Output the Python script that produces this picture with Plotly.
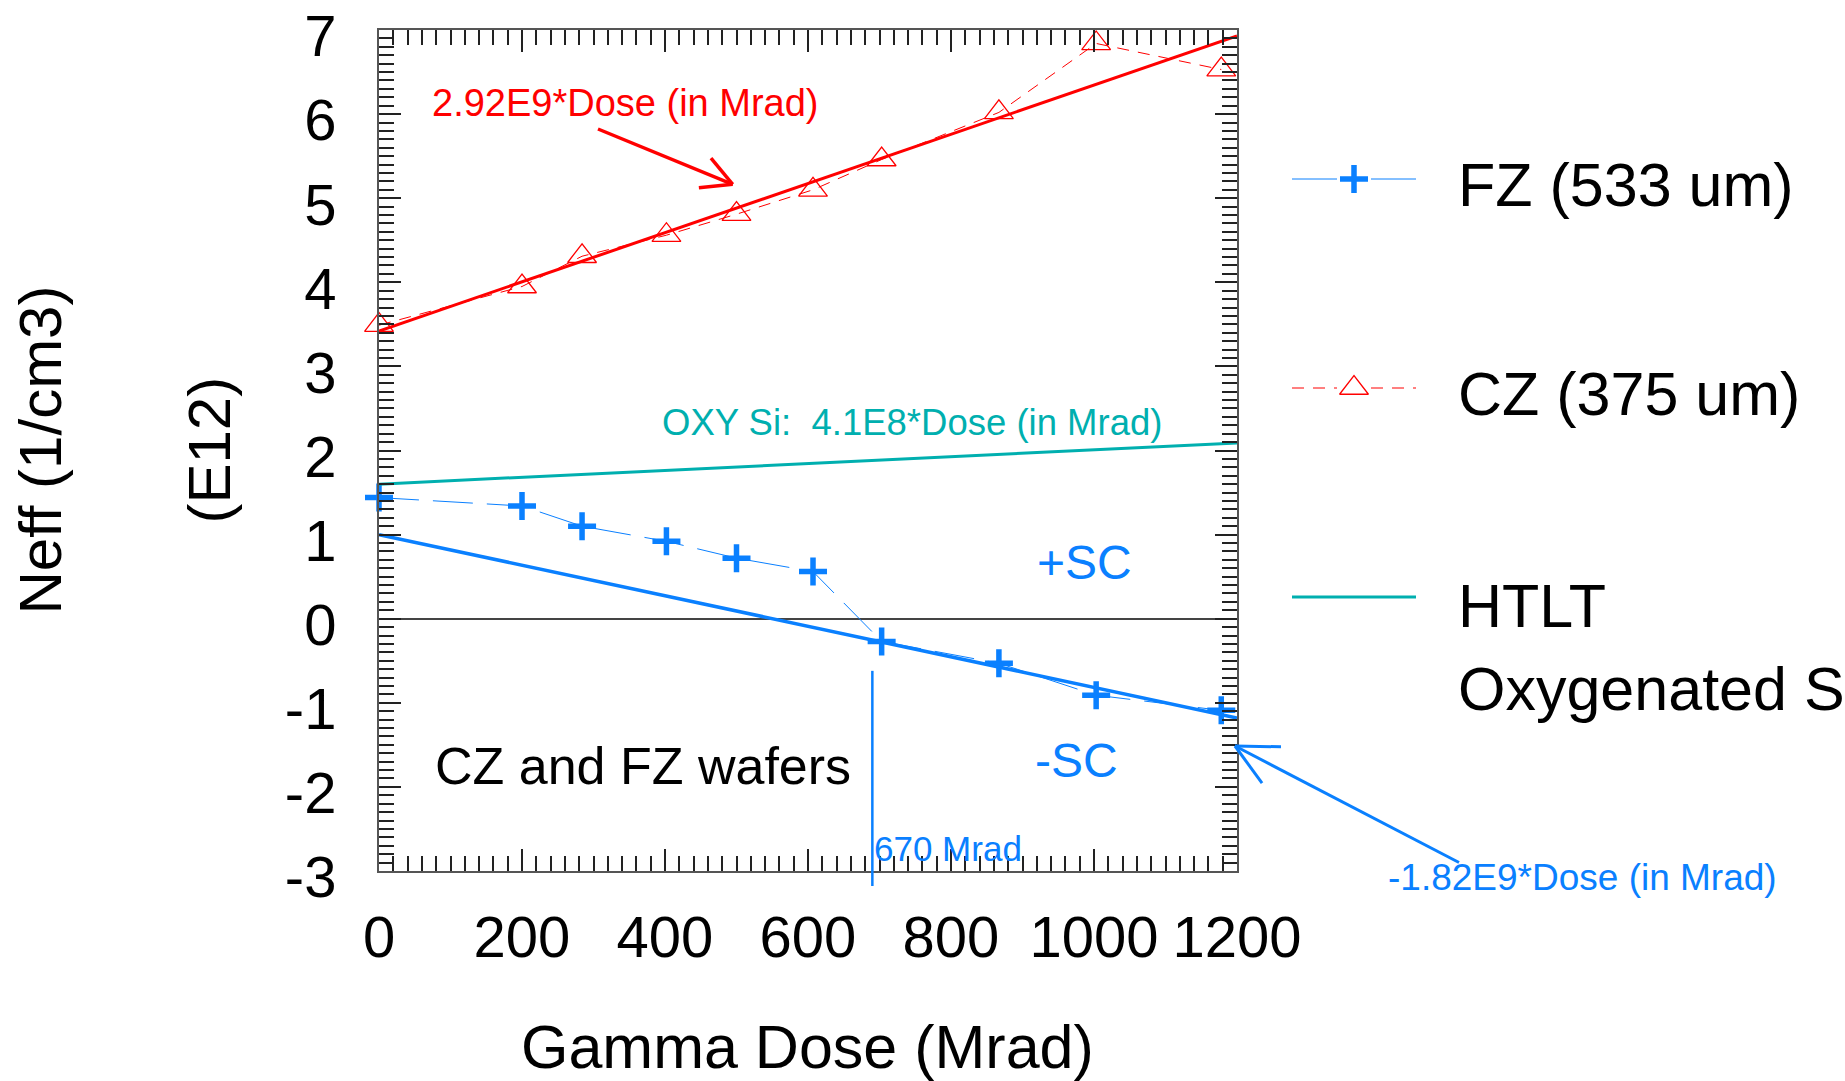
import math
import plotly.graph_objects as go

# ---------------- data ----------------
dose = [0, 200, 284, 402, 500, 607, 703, 867, 1003, 1178]          # Mrad
fz_neff = [1.44, 1.34, 1.10, 0.92, 0.72, 0.56, -0.27, -0.53, -0.91, -1.09]  # E12 /cm3
cz_neff = [3.49, 3.95, 4.31, 4.56, 4.81, 5.10, 5.46, 6.02, 6.84, 6.53]      # E12 /cm3

fit_dose = [0, 1200]
cz_fit = [3.42, 6.93]      # 2.92E9*Dose
fz_fit = [1.00, -1.18]     # -1.82E9*Dose
htlt_fit = [1.60, 2.09]    # 4.1E8*Dose

marker_dose = 690          # vertical marker ("670 Mrad")
marker_top = -0.62

x_ticks = [0, 200, 400, 600, 800, 1000, 1200]
y_ticks = [-3, -2, -1, 0, 1, 2, 3, 4, 5, 6, 7]

# ---------------- layout constants ----------------
W, H = 1845, 1081
PL, PR, PT, PB = 379, 1237, 30, 871
XR = (0, 1200)
YR = (-3, 7)
FONT = "Liberation Sans, Arial, Helvetica, sans-serif"
RED = "#FF0000"
BLUE = "#0A80FF"
TEAL = "#00AFAF"
AXC = "#555555"
TKC = "#222222"


def px(xv):
    return PL + (xv - XR[0]) / (XR[1] - XR[0]) * (PR - PL)


def py(yv):
    return PB - (yv - YR[0]) / (YR[1] - YR[0]) * (PB - PT)


fig = go.Figure()

# ---------------- data traces ----------------
fig.add_trace(go.Scatter(
    x=dose, y=cz_neff, mode="lines+markers", cliponaxis=False,
    line=dict(color=RED, width=1, dash="12px,9px"),
    marker=dict(symbol="triangle-up-open", size=25, color=RED,
                line=dict(color=RED, width=1.3)),
    showlegend=False))
fig.add_trace(go.Scatter(
    x=dose, y=fz_neff, mode="lines+markers", cliponaxis=False,
    line=dict(color=BLUE, width=1, dash="40px,14px"),
    marker=dict(symbol="cross-thin", size=20, color=BLUE,
                line=dict(color=BLUE, width=5.5)),
    showlegend=False))
fig.add_trace(go.Scatter(x=fit_dose, y=htlt_fit, mode="lines",
                         line=dict(color=TEAL, width=3), showlegend=False))
fig.add_trace(go.Scatter(x=fit_dose, y=cz_fit, mode="lines",
                         line=dict(color=RED, width=3), showlegend=False))
fig.add_trace(go.Scatter(x=fit_dose, y=fz_fit, mode="lines",
                         line=dict(color=BLUE, width=3.5), showlegend=False))

# ---------------- legend glyphs (pixel overlay axes) ----------------
LG_X0, LG_X1, LG_XM = 1292, 1416, 1354
LG_GAP = 17
rows = {"fz": 179, "cz": 388, "htlt": 597}
fig.add_trace(go.Scatter(
    x=[LG_X0, LG_XM - LG_GAP, None, LG_XM + LG_GAP, LG_X1],
    y=[rows["fz"]] * 2 + [None] + [rows["fz"]] * 2,
    xaxis="x2", yaxis="y2", mode="lines",
    line=dict(color=BLUE, width=1), showlegend=False))
fig.add_trace(go.Scatter(
    x=[LG_XM], y=[rows["fz"]], xaxis="x2", yaxis="y2", mode="markers",
    marker=dict(symbol="cross-thin", size=20, color=BLUE,
                line=dict(color=BLUE, width=5.5)), showlegend=False))
fig.add_trace(go.Scatter(
    x=[LG_X0, LG_XM - LG_GAP, None, LG_XM + LG_GAP, LG_X1],
    y=[rows["cz"]] * 2 + [None] + [rows["cz"]] * 2,
    xaxis="x2", yaxis="y2", mode="lines",
    line=dict(color=RED, width=1, dash="12px,9px"), showlegend=False))
fig.add_trace(go.Scatter(
    x=[LG_XM], y=[rows["cz"]], xaxis="x2", yaxis="y2", mode="markers",
    marker=dict(symbol="triangle-up-open", size=25, color=RED,
                line=dict(color=RED, width=1.3)), showlegend=False))
fig.add_trace(go.Scatter(
    x=[LG_X0, LG_X1], y=[rows["htlt"]] * 2, xaxis="x2", yaxis="y2",
    mode="lines", line=dict(color=TEAL, width=3), showlegend=False))

# ---------------- annotations ----------------
def txt(x, y, s, size, color="black", xanchor="left", angle=0):
    return dict(x=x, y=y, xref="x2", yref="y2", text=s, showarrow=False,
                xanchor=xanchor, yanchor="middle", textangle=angle,
                font=dict(family=FONT, size=size, color=color))


annotations = [
    txt(430, 103, "2.92E9*Dose (in Mrad)", 38, RED),
    txt(660, 422, "OXY Si:&nbsp; 4.1E8*Dose (in Mrad)", 36.5, TEAL),
    txt(1035, 562, "+SC", 48, BLUE),
    txt(1033, 760, "-SC", 48, BLUE),
    txt(433, 766, "CZ and FZ wafers", 52, "black"),
    txt(872, 848, "670 Mrad", 35, BLUE),
    txt(1386, 877, "-1.82E9*Dose (in Mrad)", 37, BLUE),
    txt(1456, 185, "FZ (533 um)", 61),
    txt(1456, 394, "CZ (375 um)", 61),
    txt(1456, 606, "HTLT", 61),
    txt(1456, 689, "Oxygenated Si", 61),
    txt((PL + PR) / 2 - 1, 1047, "Gamma Dose (Mrad)", 61, xanchor="center"),
    txt(40, (PT + PB) / 2, "Neff (1/cm3)", 60, xanchor="center", angle=-90),
    txt(209, (PT + PB) / 2, "(E12)", 60, xanchor="center", angle=-90),
]

# ---------------- shapes (marker line + arrows) ----------------
shapes = []


def seg(x0, y0, x1, y1, color, width):
    shapes.append(dict(type="line", xref="x2", yref="y2", x0=x0, y0=y0,
                       x1=x1, y1=y1, line=dict(color=color, width=width)))


def arrow(tail, tip, color, width, head_len, head_ang):
    seg(tail[0], tail[1], tip[0], tip[1], color, width)
    ang = math.atan2(tail[1] - tip[1], tail[0] - tip[0])
    for s in (-1, 1):
        a = ang + s * math.radians(head_ang)
        seg(tip[0], tip[1], tip[0] + head_len * math.cos(a),
            tip[1] + head_len * math.sin(a), color, width)


seg(px(marker_dose), py(marker_top), px(marker_dose), PB + 15, BLUE, 2.5)
arrow((598, 129), (732.7, 184.3), RED, 3.5, 34, 28)
arrow((1459, 862.5), (1235, 746), BLUE, 3, 46, 26.5)

fig.update_layout(
    width=W, height=H, autosize=False,
    margin=dict(l=0, r=0, t=0, b=0, pad=0, autoexpand=False),
    paper_bgcolor="white", plot_bgcolor="rgba(0,0,0,0)",
    font=dict(family=FONT, color="black"),
    showlegend=False,
    annotations=annotations,
    shapes=shapes,
    xaxis=dict(
        domain=[PL / W, PR / W], range=list(XR), anchor="y",
        showline=True, linecolor=AXC, linewidth=2, mirror="allticks",
        ticks="inside", ticklen=22, tickwidth=1.5, tickcolor=TKC,
        tickvals=x_ticks, ticktext=[str(v) for v in x_ticks], tickangle=0,
        tickfont=dict(family=FONT, size=58, color="black"),
        ticklabelstandoff=14, ticklabeloverflow="allow", automargin=False,
        minor=dict(ticks="inside", ticklen=15, dtick=20, tickwidth=1.5,
                   tickcolor=TKC, showgrid=False),
        showgrid=False, zeroline=False, fixedrange=True),
    yaxis=dict(
        domain=[(H - PB) / H, (H - PT) / H], range=list(YR), anchor="x",
        showline=True, linecolor=AXC, linewidth=2, mirror="allticks",
        ticks="inside", ticklen=22, tickwidth=1.5, tickcolor=TKC,
        tickvals=y_ticks, ticktext=[str(v) for v in y_ticks],
        tickfont=dict(family=FONT, size=58, color="black"),
        ticklabelstandoff=29, ticklabelshift=6, ticklabeloverflow="allow",
        automargin=False,
        minor=dict(ticks="inside", ticklen=15, dtick=0.1, tickwidth=1.5,
                   tickcolor=TKC, showgrid=False),
        showgrid=False, zeroline=True, zerolinecolor="#444444",
        zerolinewidth=1.5, fixedrange=True),
    xaxis2=dict(domain=[0, 1], range=[0, W], anchor="y2", visible=False,
                fixedrange=True, automargin=False),
    yaxis2=dict(domain=[0, 1], range=[H, 0], anchor="x2", visible=False,
                fixedrange=True, automargin=False),
)

fig.write_html(
    "out.html",
    config={"displayModeBar": False},
    post_script="document.body.style.margin='0';document.body.style.overflow='hidden';",
)
